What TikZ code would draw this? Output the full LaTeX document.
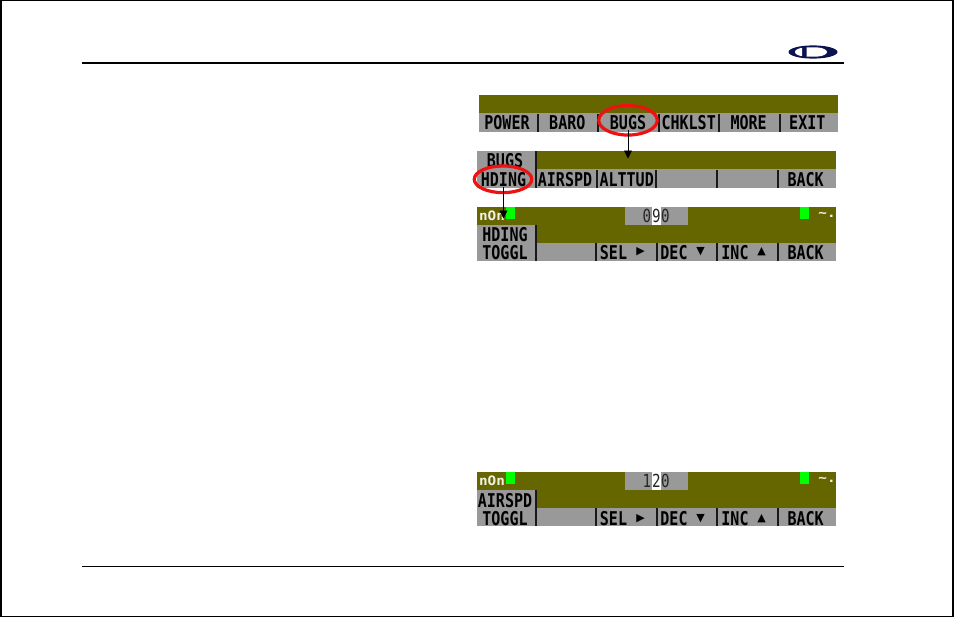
\documentclass[tikz,border=0pt]{standalone}
\usepackage{fontspec}
\usepackage{xcolor}
\newfontfamily\lcdfont{DejaVu Sans Mono}[FakeStretch=0.79]
\newfontfamily\statfont{DejaVu Sans Mono}[FakeStretch=1.1]
\newfontfamily\symfont{DejaVu Sans}
\usetikzlibrary{positioning,
	shapes.geometric,
	arrows.meta}
\definecolor{lcdolive}{HTML}{666600}
\definecolor{lcdgrey}{HTML}{999999}
\definecolor{lcdgreen}{HTML}{00FF00}
\definecolor{ringred}{HTML}{EE1111}
\definecolor{logoblue}{HTML}{0B1450}
\tikzset{
	keylabel/.style={inner sep=0pt, text height=14pt, text depth=0pt, font=\lcdfont\bfseries\fontsize{19}{19}\selectfont, text=black},
	keysym/.style={inner sep=0pt, font=\symfont\fontsize{11}{11}\selectfont, text=black},
	readout/.style={inner sep=0pt, text height=13pt, text depth=0pt, font=\lcdfont\fontsize{18}{18}\selectfont, text=black!85},
	statustext/.style={inner sep=0pt, font=\statfont\bfseries\fontsize{13}{13}\selectfont, text=white!90!lcdolive},
	keysep/.style={draw=black!90, line width=1.8pt},
	ring/.style={draw=ringred, line width=3.2pt, ellipse, inner sep=0pt},
	rule/.style={draw=black},
	pointer/.style={draw=black, line width=0.9pt, -{Triangle[width=8pt,length=8pt]}}
}
\begin{document}
\begin{tikzpicture}[x=1pt, y=-1pt]
	\useasboundingbox (0,0) rectangle (954,618);
	\draw[rule, line width=1.6pt] (0.7,0.7) rectangle (953,616.3);
	\draw[rule, line width=2pt] (82,63) -- (844,63);
	\draw[rule, line width=1pt] (82,566.5) -- (844,566.5);
	% logo
	\fill[logoblue] (813,52) ellipse [x radius=24.5, y radius=6.6];
	\fill[white] (802,47.8) .. controls (798,48.4) and (795,50) .. (795,52) .. controls (795,54) and (798,55.6) .. (802,56.2) -- cycle;
	\fill[white] (806.5,47.4) -- (817,47.4) .. controls (823,47.6) and (827,50) .. (827,52) .. controls (827,54) and (823,56.4) .. (817,56.6) -- (806.5,56.6) -- cycle;
	% menu bar
	\fill[lcdolive] (479,95) rectangle (838,113.4);
	\fill[lcdgrey] (479,113.4) rectangle (838,131.7);
	\foreach \keyx in {537.7,597.7,659,719.3,780}
		\draw[keysep] (\keyx,114) -- (\keyx,131.5);
	\foreach \keyx/\keyname/\keytext in {507/power/POWER,567.3/baro/BARO,628/bugs/BUGS,688.7/chklst/CHKLST,748.7/more/MORE,807.3/exit/EXIT}
		\node (\keyname) [keylabel] at (\keyx,122.7) {\keytext};
	% bugs menu
	\fill[lcdolive] (477,151) rectangle (836,169.3);
	\fill[lcdgrey] (477,169.3) rectangle (836,187.7);
	\fill[lcdgrey] (477,151) rectangle (535.7,169.3);
	\draw[keysep] (535.7,151) -- (535.7,187.5);
	\foreach \keyx in {596.7,656,717.3,777.7}
		\draw[keysep] (\keyx,170) -- (\keyx,187.5);
	\node (bugstab) [keylabel] at (505,160.5) {BUGS};
	\foreach \keyx/\keyname/\keytext in {503.5/hding/HDING,565/airspd/AIRSPD,626.7/alttud/ALTTUD,805.7/backb/BACK}
		\node (\keyname) [keylabel] at (\keyx,179.3) {\keytext};
	% readout menus
	\foreach \ytop/\ofs/\barname/\tabtext/\dleft/\dmid/\dright in {207/0/hdg/HDING/0/9/0,472/1.3/air/AIRSPD/1/2/0} {
		\fill[lcdolive] (477,\ytop) rectangle (836,\ytop+36);
		\fill[lcdgrey] (477,\ytop+36) rectangle (836,\ytop+54);
		\fill[lcdgrey] (477,\ytop+18) rectangle (535.7,\ytop+36);
		\fill[lcdgrey] (625,\ytop) rectangle (688,\ytop+18);
		\fill[white] (652,\ytop) rectangle (661,\ytop+18);
		\fill[lcdgreen] (506,\ytop) rectangle (515,\ytop+12);
		\fill[lcdgreen] (800,\ytop) rectangle (809,\ytop+12);
		\draw[keysep] (535.7,\ytop+18) -- (535.7,\ytop+54);
		\foreach \keyx in {595.7,657.3,716.7,777.7}
			\draw[keysep] (\keyx,\ytop+36) -- (\keyx,\ytop+53.8);
		\node (\barname left) [readout] at (647,\ytop+9) {\dleft};
		\node (\barname mid) [readout] at (656.5,\ytop+9) {\dmid};
		\node (\barname right) [readout] at (665.5,\ytop+9) {\dright};
		\node (\barname stat) [statustext] at (492,\ytop+8.5) {nOn};
		\node (\barname far) [statustext] at (827,\ytop+8) {\textasciitilde.};
		\node (\barname tab) [keylabel] at (505,\ytop+27+\ofs) {\tabtext};
		\node (\barname tog) [keylabel] at (505,\ytop+45+\ofs) {TOGGL};
		\node (\barname sel) [keylabel] at (613.5,\ytop+45+\ofs) {SEL};
		\node (\barname seltri) [keysym] at (640.7,\ytop+45+\ofs) {\char"25B6};
		\node (\barname dec) [keylabel] at (674,\ytop+45+\ofs) {DEC};
		\node (\barname dectri) [keysym] at (700.7,\ytop+45+\ofs) {\char"25BC};
		\node (\barname inc) [keylabel] at (735,\ytop+45+\ofs) {INC};
		\node (\barname inctri) [keysym] at (761.7,\ytop+45+\ofs) {\char"25B2};
		\node (\barname back) [keylabel] at (805.7,\ytop+45+\ofs) {BACK};
	}
	% highlights and pointers
	\node (bugsring) [ring, minimum width=58.5pt, minimum height=29.5pt] at (628,120.3) {};
	\node (hdingring) [ring, minimum width=57.5pt, minimum height=26.7pt] at (503,179.3) {};
	\coordinate (bugstip) at (628,158.5);
	\coordinate (hdingtip) at (503.5,218.5);
	\draw[pointer] (bugs) -- (bugstip);
	\draw[pointer] (hding) -- (hdingtip);
\end{tikzpicture}
\end{document}
